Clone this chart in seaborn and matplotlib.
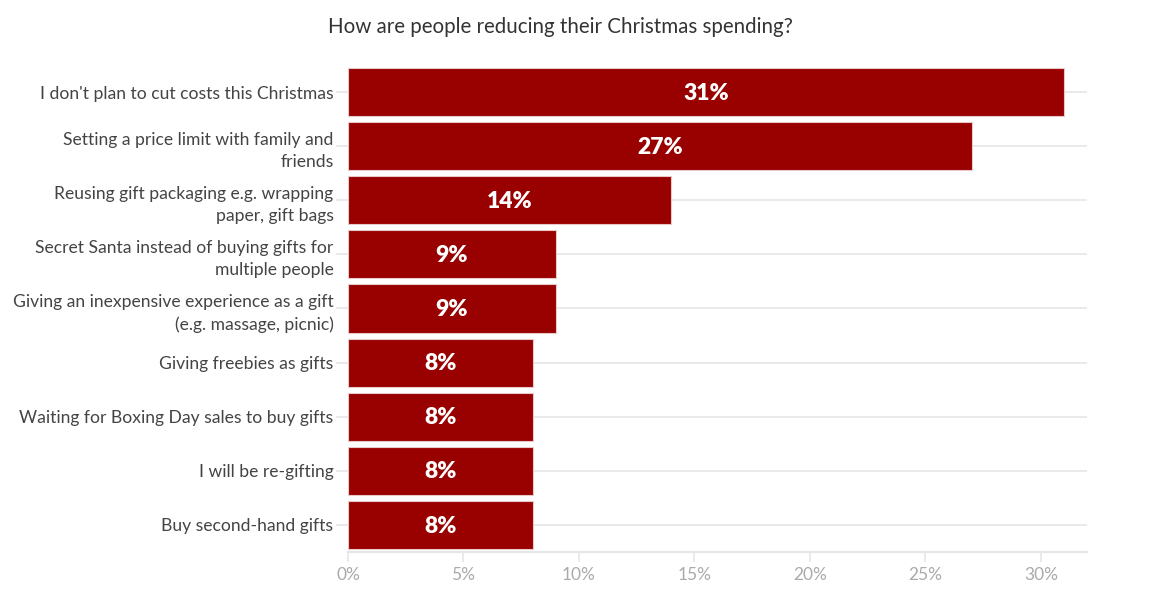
import pandas as pd
import matplotlib.pyplot as plt
import seaborn as sns
from matplotlib.ticker import FuncFormatter

categories = ["I don't plan to cut costs this Christmas",
              "Setting a price limit with family and\nfriends",
              "Reusing gift packaging e.g. wrapping\npaper, gift bags",
              "Secret Santa instead of buying gifts for\nmultiple people",
              "Giving an inexpensive experience as a gift\n(e.g. massage, picnic)",
              "Giving freebies as gifts",
              "Waiting for Boxing Day sales to buy gifts",
              "I will be re-gifting",
              "Buy second-hand gifts"]
values = [31, 27, 14, 9, 9, 8, 8, 8, 8]

df = pd.DataFrame({"method": categories, "share": values})

sns.set_style("white")
plt.rcParams['font.family'] = ['Lato', 'DejaVu Sans']

fig = plt.figure(figsize=(11.53, 6.07), dpi=100)
ax = fig.add_axes([0.3018, 0.0906, 0.6410, 0.8024])

sns.barplot(data=df, x="share", y="method", color="#990000", saturation=1,
            width=0.89, edgecolor="#e8c8c8", linewidth=0.8, ax=ax, zorder=3)

for i, v in enumerate(values):
    ax.text(v / 2, i + 0.02, f"{v}%", ha="center", va="center", color="white",
            fontsize=16.5, fontweight="heavy", zorder=4)

ax.set_xlim(0, 32)
ax.set_ylim(len(values) - 0.5, -0.5)
ax.set_xticks(range(0, 31, 5))
ax.xaxis.set_major_formatter(FuncFormatter(lambda x, p: f"{x:.0f}%"))
ax.set_xlabel("")
ax.set_ylabel("")

for y in range(len(values)):
    ax.axhline(y, color="#e6e6e6", linewidth=1.2, zorder=1)

for s in ["top", "right", "left"]:
    ax.spines[s].set_visible(False)
ax.spines["bottom"].set_color("#e6e6e6")
ax.spines["bottom"].set_linewidth(1.5)

ax.tick_params(axis="x", colors="#e6e6e6", labelcolor="#aaaaaa", labelsize=12.5,
               length=7, width=1.2, direction="out", bottom=True)
ax.tick_params(axis="y", colors="#e6e6e6", labelcolor="#444444", labelsize=12.6,
               length=9, width=1.2, pad=1.5, left=True)
for lab in ax.get_yticklabels():
    lab.set_linespacing(1.5)

fig.text(560 / 1153, 1 - 27 / 607, "How are people reducing their Christmas spending?",
         ha="center", va="center", fontsize=14.8, color="#333333")

plt.savefig("out.png", dpi=100)
